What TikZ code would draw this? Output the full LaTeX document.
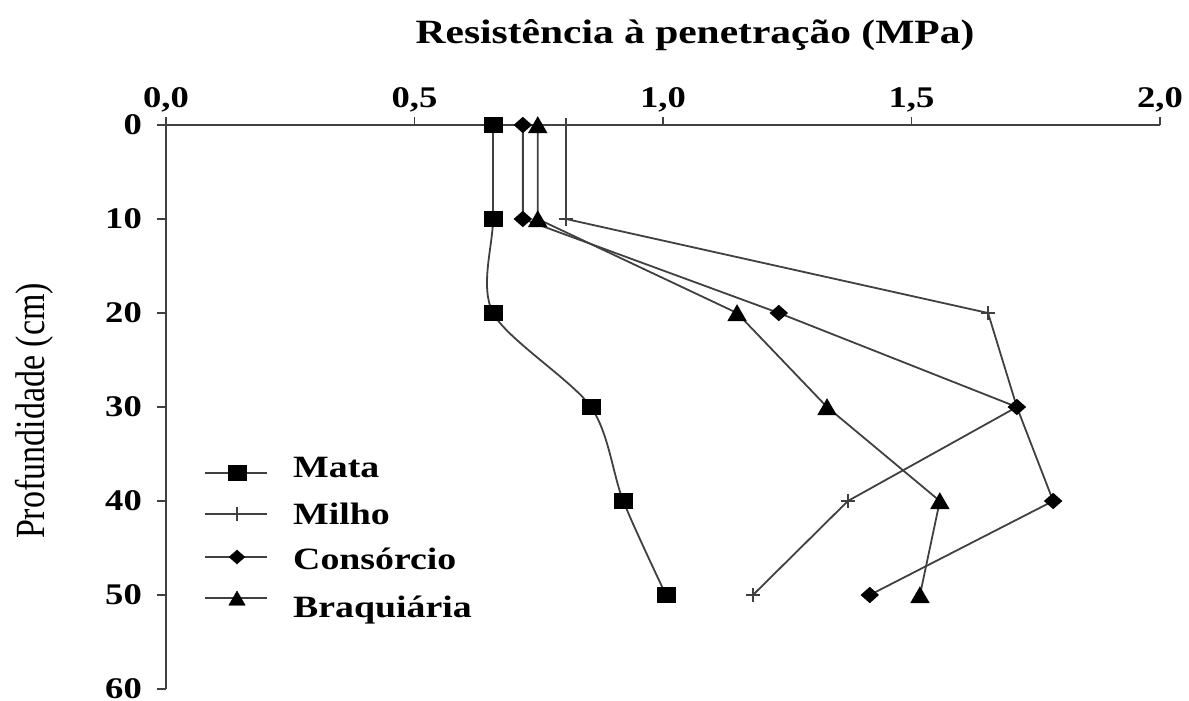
\documentclass[tikz,border=0pt]{standalone}
\usepackage{fontspec}
\usepackage{graphicx}
\setmainfont[FakeStretch=1.22]{Liberation Serif}
\newfontfamily\ylabelfont{Liberation Serif}
\usetikzlibrary{plotmarks}
\tikzstyle{axisline} = [line width=1.8pt, black!75]
\tikzstyle{serie} = [line width=1.8pt, black!75]
\tikzstyle{ticklabel} = [inner sep=0pt, font=\bfseries\fontsize{30}{36}\selectfont]
\tikzstyle{legendtext} = [inner sep=0pt, anchor=base west, font=\bfseries\fontsize{31}{37}\selectfont]

\begin{document}
\begin{tikzpicture}[x=1pt, y=-1pt]
\useasboundingbox (0,0) rectangle (1189,701);

% titles
\node (title) [anchor=base, font=\bfseries\fontsize{34}{40}\selectfont] at (695,44) {Resistência à penetração (MPa)};
\node (ylabel) [anchor=base, rotate=90, inner sep=0pt] at (44,411) {\ylabelfont\fontsize{34}{40}\selectfont\scalebox{1}[1.22]{Profundidade (cm)}};

\begin{scope}[shift={(166pt,-125pt)}, x=497pt, y=-9.4pt]
% axes
\draw [axisline] (0,0) -- (2,0);
\draw [axisline] (0,-0.8) -- (0,60);
\foreach \x/\lab in {0/{0,0}, 0.5/{0,5}, 1/{1,0}, 1.5/{1,5}, 2/{2,0}} {
  \draw [axisline] (\x,0) -- ++(0,-0.8);
  \node (xt\x) [ticklabel, anchor=base, yshift=18pt] at (\x,0) {\lab};
}
\foreach \d in {0,10,...,60} {
  \draw [axisline] (0,\d) -- ++(-9pt,0);
  \node (yt\d) [ticklabel, anchor=east, xshift=-24pt] at (0,\d) {\d};
}

% series
\draw [serie] plot[smooth, tension=0.5] coordinates {(0.658,0) (0.658,10) (0.658,20) (0.855,30) (0.920,40) (1.006,50)};
\path plot[only marks, mark=square*, mark size=7.5pt, mark options={fill=black, draw=black, xscale=1.2}] coordinates {(0.658,0) (0.658,10) (0.658,20) (0.855,30) (0.920,40) (1.006,50)};
\draw [serie] plot[mark=+, mark size=7pt, mark options={black!75, line width=1.5pt}] coordinates {(0.805,0) (0.805,10) (1.654,20) (1.712,30) (1.372,40) (1.181,50)};
\draw [serie] plot[mark=diamond*, mark size=7pt, mark options={fill=black, draw=black, xscale=1.5}] coordinates {(0.718,0) (0.718,10) (1.233,20) (1.712,30) (1.785,40) (1.416,50)};
\draw [serie] plot[mark=triangle*, mark size=9.5pt, mark options={fill=black, draw=black, yshift=-2.5pt}] coordinates {(0.748,0) (0.748,10) (1.149,20) (1.330,30) (1.557,40) (1.517,50)};
\end{scope}

% legend
\draw [serie] (205,473) -- (267,473);
\path plot[mark=square*, mark size=7.5pt, mark options={fill=black, draw=black, xscale=1.2}] coordinates {(237,473)};
\node (legmata) [legendtext] at (293,477) {Mata};
\draw [serie] (205,514) -- (267,514);
\path plot[mark=+, mark size=7pt, mark options={black!75, line width=1.5pt}] coordinates {(237,514)};
\node (legmilho) [legendtext] at (293,524) {Milho};
\draw [serie] (205,557) -- (267,557);
\path plot[mark=diamond*, mark size=7pt, mark options={fill=black, draw=black, xscale=1.5}] coordinates {(237,557)};
\node (legconsorcio) [legendtext] at (293,569) {Consórcio};
\draw [serie] (205,598) -- (267,598);
\path plot[mark=triangle*, mark size=9.5pt, mark options={fill=black, draw=black, yshift=-2.5pt}] coordinates {(237,598)};
\node (legbraquiaria) [legendtext] at (293,617) {Braquiária};
\end{tikzpicture}
\end{document}
